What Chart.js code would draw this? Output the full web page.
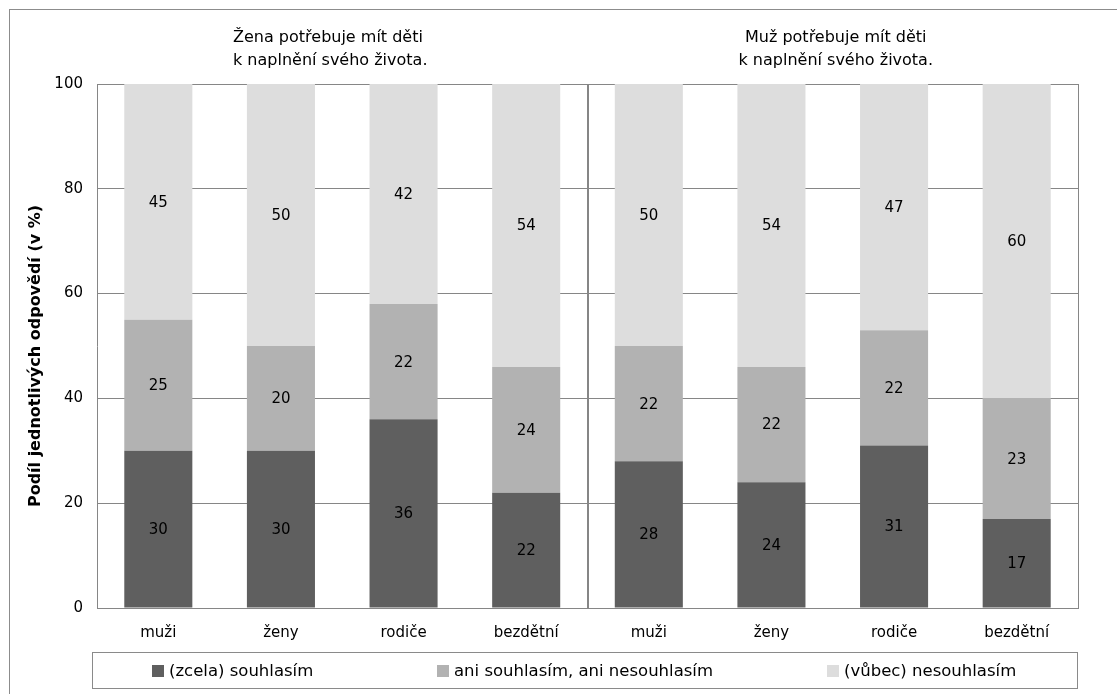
<!DOCTYPE html>
<html>
<head>
<meta charset="utf-8">
<title>Podíl jednotlivých odpovědí</title>
<script src="https://cdn.jsdelivr.net/npm/chart.js@4.4.1/dist/chart.umd.min.js"></script>
<style>
  body { margin:0; background:#fff; overflow:hidden; }
  #wrap { position:relative; width:1117px; height:694px; overflow:hidden; font-family:"DejaVu Sans", sans-serif; color:#000; }
  #frame { position:absolute; left:9px; top:9px; width:1200px; height:800px; border:1px solid #8c8c8c; }
  canvas { position:absolute; left:0; top:0; }
  .title { position:absolute; top:25px; font-size:16px; line-height:23px; white-space:nowrap; }
  #legend { position:absolute; left:92px; top:652px; width:984px; height:35px; border:1px solid #8a8a8a; }
  .item { position:absolute; top:0; height:35px; display:flex; align-items:center; font-size:16.5px; white-space:nowrap; }
  .item span { display:inline-block; width:12px; height:12px; margin-right:5px; }
</style>
</head>
<body>
<div id="wrap">
  <div id="frame"></div>
  <canvas id="chart" width="1117" height="694"></canvas>
  <div id="titles"></div>
  <div id="legend"></div>
</div>
<script>
// data from the picture
var categories = ["muži", "ženy", "rodiče", "bezdětní", "muži", "ženy", "rodiče", "bezdětní"];
var groupTitles = [["Žena potřebuje mít děti", "k naplnění svého života."], ["Muž potřebuje mít děti", "k naplnění svého života."]];
var seriesNames = ["(zcela) souhlasím", "ani souhlasím, ani nesouhlasím", "(vůbec) nesouhlasím"];
var souhlasim = [30, 30, 36, 22, 28, 24, 31, 17];
var aniAni = [25, 20, 22, 24, 22, 22, 22, 23];
var nesouhlasim = [45, 50, 42, 54, 50, 54, 47, 60];
var yTicks = [0, 20, 40, 60, 80, 100];
var yTitle = "Podíl jednotlivých odpovědí (v %)";

var colors = ["#5f5f5f", "#b2b2b2", "#dddddd"];
var lineColor = "#868686";

Chart.defaults.font.family = "'DejaVu Sans', sans-serif";
Chart.defaults.color = "#000";

// right border, middle divider, y title and the numbers in the bars
var extras = {
  id: "extras",
  afterDatasetsDraw: function(chart) {
    var ctx = chart.ctx;
    var area = chart.chartArea;
    var x = chart.scales.x;
    ctx.save();
    ctx.strokeStyle = lineColor;
    ctx.lineWidth = 1;
    ctx.beginPath();
    ctx.moveTo(Math.round(area.right) + 0.5, area.top);
    ctx.lineTo(Math.round(area.right) + 0.5, area.bottom);
    ctx.stroke();

    var mid = (x.getPixelForValue(3) + x.getPixelForValue(4)) / 2;
    ctx.lineWidth = 2;
    ctx.beginPath();
    ctx.moveTo(Math.round(mid), area.top);
    ctx.lineTo(Math.round(mid), area.bottom);
    ctx.stroke();

    ctx.fillStyle = "#000";
    ctx.textAlign = "center";
    ctx.textBaseline = "middle";

    // y title sits a bit below the middle in the original
    ctx.save();
    ctx.translate(36, (area.top + area.bottom) / 2 + 10);
    ctx.rotate(-Math.PI / 2);
    ctx.font = "bold 16px 'DejaVu Sans'";
    ctx.fillText(yTitle, 0, 0);
    ctx.restore();

    ctx.font = "15px 'DejaVu Sans'";
    chart.data.datasets.forEach(function(ds, i) {
      chart.getDatasetMeta(i).data.forEach(function(bar, j) {
        ctx.fillText(ds.data[j], bar.x, (bar.y + bar.base) / 2 + 1);
      });
    });
    ctx.restore();
  }
};

var series = [souhlasim, aniAni, nesouhlasim];
var datasets = series.map(function(values, i) {
  return {
    label: seriesNames[i],
    data: values,
    backgroundColor: colors[i],
    borderWidth: 0,
    barPercentage: 0.555,
    categoryPercentage: 1
  };
});

var chart = new Chart(document.getElementById("chart"), {
  type: "bar",
  data: { labels: categories, datasets: datasets },
  options: {
    responsive: false,
    animation: false,
    devicePixelRatio: 1,
    layout: { padding: { left: 0, top: 84, right: 39, bottom: 0 } },
    plugins: { legend: { display: false }, tooltip: { enabled: false } },
    scales: {
      x: {
        stacked: true,
        grid: { display: false, drawTicks: false },
        border: { display: true, color: lineColor, width: 1 },
        ticks: { font: { size: 15 }, padding: 16, maxRotation: 0, autoSkip: false },
        afterFit: function(scale) { scale.height = 86; }
      },
      y: {
        stacked: true,
        min: 0,
        max: 100,
        grid: { color: lineColor, lineWidth: 1, drawTicks: false },
        border: { display: true, color: lineColor, width: 1 },
        ticks: { font: { size: 15 }, padding: 14 },
        afterBuildTicks: function(scale) {
          scale.ticks = yTicks.map(function(v) { return { value: v }; });
        },
        afterFit: function(scale) { scale.width = 97; }
      }
    }
  },
  plugins: [extras]
});

// group titles above the halves
var titles = document.getElementById("titles");
var area = chart.chartArea;
var half = (area.right - area.left) / 2;
groupTitles.forEach(function(lines, i) {
  var div = document.createElement("div");
  div.className = "title";
  div.innerHTML = lines.join("<br>");
  if (i === 0) {
    div.style.left = "233px";
  } else {
    div.style.left = (area.left + half * 1.5 + 3) + "px";
    div.style.transform = "translateX(-50%)";
    div.style.textAlign = "center";
  }
  titles.appendChild(div);
});

// legend in a box under the chart
var legend = document.getElementById("legend");
var itemLeft = [59, 344, 734];
seriesNames.forEach(function(name, i) {
  var item = document.createElement("div");
  item.className = "item";
  item.style.left = itemLeft[i] + "px";
  item.innerHTML = '<span style="background:' + colors[i] + '"></span>' + name;
  legend.appendChild(item);
});
</script>
</body>
</html>
